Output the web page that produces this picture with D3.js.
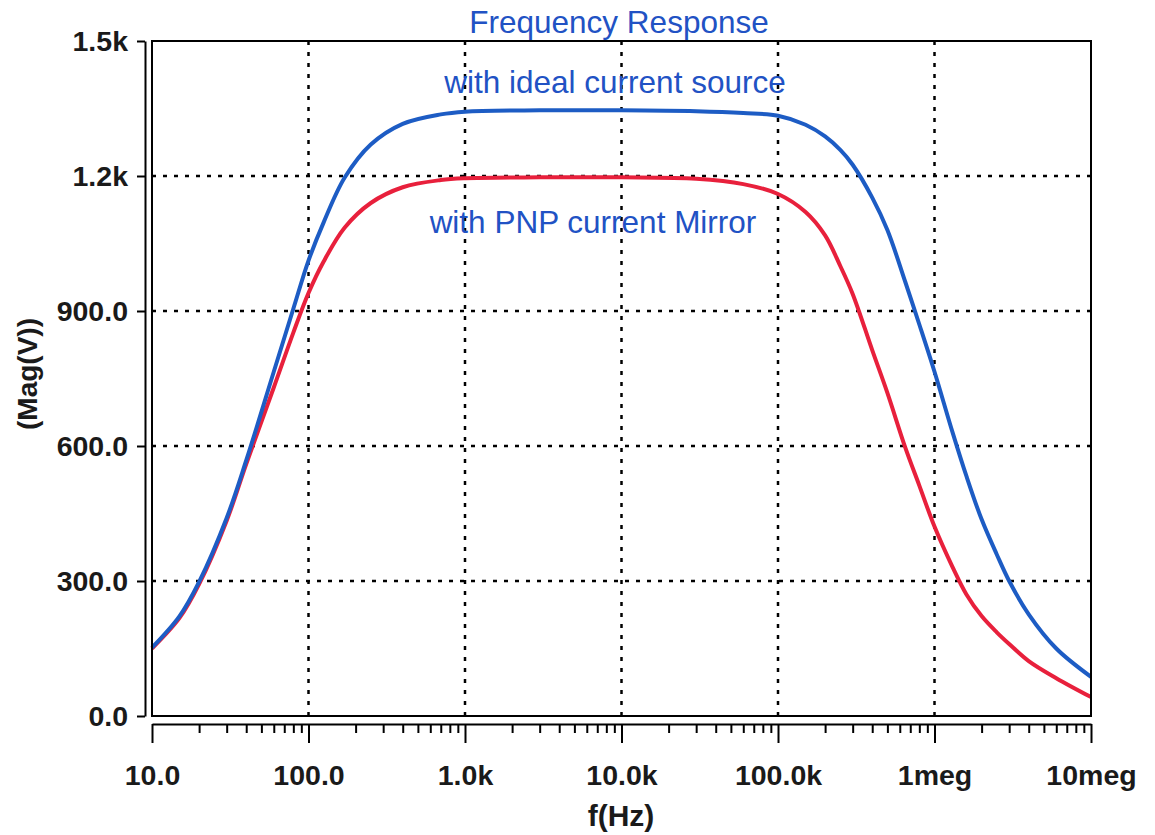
<!DOCTYPE html>
<html>
<head>
<meta charset="utf-8">
<script src="https://cdn.jsdelivr.net/npm/d3@7"></script>
<style>
  body { margin: 0; background: #fff; }
  text { font-family: "Liberation Sans", Arial, Helvetica, sans-serif; }
</style>
</head>
<body>
<div id="chart"></div>
<script>
var width = 1155;
var height = 835;

// values (Hz, V)
var freqs = [10, 15, 20, 30, 40, 60, 80, 100, 125, 170, 250, 400, 700,
  1e3, 3e3, 1e4, 3e4, 6e4, 1e5, 1.5e5, 2e5, 2.5e5, 3e5, 4e5, 5e5, 6.5e5, 8e5,
  1e6, 1.3e6, 1.6e6, 2e6, 2.5e6, 3e6, 4e6, 6e6, 1e7];
var idealSource = [152, 222, 298, 440, 568, 765, 905, 1012, 1097, 1196, 1270, 1316, 1337,
  1343, 1346, 1346, 1344, 1340, 1334, 1314, 1288, 1258, 1225, 1152, 1080, 965, 870,
  765, 632, 533, 437, 359, 300, 226, 150, 87];
var pnpMirror = [150, 218, 293, 434, 560, 730, 852, 940, 1010, 1085, 1140, 1175, 1191,
  1195, 1197, 1197, 1194, 1182, 1160, 1120, 1068, 1000, 938, 813, 718, 597, 512,
  421, 332, 270, 222, 186, 160, 122, 84, 42];

var xTicks = [10, 100, 1e3, 1e4, 1e5, 1e6, 1e7];
var xTickLabels = ["10.0", "100.0", "1.0k", "10.0k", "100.0k", "1meg", "10meg"];
var yTicks = [0, 300, 600, 900, 1200, 1500];
var yTickLabels = ["0.0", "300.0", "600.0", "900.0", "1.2k", "1.5k"];

var plotLeft = 152, plotRight = 1091, plotTop = 41, plotBottom = 716;

var svg = d3.select("#chart")
    .append("svg")
    .attr("width", width)
    .attr("height", height);

var x = d3.scaleLog().domain([10, 1e7]).range([plotLeft, plotRight]);
var y = d3.scaleLinear().domain([0, 1500]).range([plotBottom, plotTop]);

// grid
var grid = svg.append("g")
    .attr("stroke", "#000")
    .attr("stroke-width", 2.5)
    .attr("stroke-dasharray", "4,7");
grid.selectAll(".vg").data(xTicks.slice(1, -1))
    .enter().append("line")
    .attr("x1", d => x(d)).attr("x2", d => x(d))
    .attr("y1", plotTop).attr("y2", plotBottom);
grid.selectAll(".hg").data(yTicks.slice(1, -1))
    .enter().append("line")
    .attr("x1", plotLeft).attr("x2", plotRight)
    .attr("y1", d => y(d)).attr("y2", d => y(d));

// curves
var line = d3.line()
    .x((d, i) => x(freqs[i]))
    .y(d => y(d))
    .curve(d3.curveCatmullRom.alpha(0.5));

svg.append("path")
    .datum(pnpMirror)
    .attr("d", line)
    .attr("fill", "none")
    .attr("stroke", "#e8203c")
    .attr("stroke-width", 4);

svg.append("path")
    .datum(idealSource)
    .attr("d", line)
    .attr("fill", "none")
    .attr("stroke", "#1d5cc4")
    .attr("stroke-width", 4);

// plot frame
svg.append("rect")
    .attr("x", plotLeft).attr("y", plotTop)
    .attr("width", plotRight - plotLeft).attr("height", plotBottom - plotTop)
    .attr("fill", "none")
    .attr("stroke", "#000")
    .attr("stroke-width", 2);

// x axis (separate, below frame)
var minor = [];
xTicks.slice(0, -1).forEach(function(d) {
  for (var k = 2; k < 10; k++) minor.push(d * k);
});

var xAxisG = svg.append("g")
    .attr("transform", "translate(0,724)")
    .call(d3.axisBottom(x)
      .tickValues(xTicks)
      .tickFormat((d, i) => xTickLabels[i])
      .tickSize(19)
      .tickSizeOuter(0)
      .tickPadding(22));
xAxisG.select(".domain").attr("stroke-width", 2);
xAxisG.selectAll(".tick line").attr("stroke-width", 2);
xAxisG.selectAll("text")
    .style("font-size", "28.5px")
    .style("font-weight", "bold")
    .attr("fill", "#1a1a1a");

svg.append("g")
    .attr("transform", "translate(0,724)")
    .call(d3.axisBottom(x).tickValues(minor).tickFormat("").tickSize(9).tickSizeOuter(0))
    .call(g => g.select(".domain").remove())
    .selectAll(".tick line").attr("stroke-width", 2);

// y axis (separate, left of frame)
var yAxisG = svg.append("g")
    .attr("transform", "translate(145,0)")
    .call(d3.axisLeft(y)
      .tickValues(yTicks)
      .tickFormat((d, i) => yTickLabels[i])
      .tickSize(8)
      .tickSizeOuter(0)
      .tickPadding(9));
yAxisG.select(".domain").attr("stroke-width", 2);
yAxisG.selectAll(".tick line").attr("stroke-width", 2);
yAxisG.selectAll("text")
    .style("font-size", "28.5px")
    .style("font-weight", "bold")
    .attr("fill", "#1a1a1a");

// axis titles
svg.append("text")
    .attr("x", 621).attr("y", 826)
    .attr("text-anchor", "middle")
    .style("font-size", "30px")
    .style("font-weight", "bold")
    .attr("fill", "#1a1a1a")
    .text("f(Hz)");

svg.append("text")
    .attr("transform", "translate(37,374) rotate(-90)")
    .attr("text-anchor", "middle")
    .style("font-size", "28px")
    .style("font-weight", "bold")
    .attr("fill", "#1a1a1a")
    .text("(Mag(V))");

// titles and labels
var blueText = "#2152c4";
svg.append("text")
    .attr("x", 619).attr("y", 33)
    .attr("text-anchor", "middle")
    .style("font-size", "31.5px")
    .attr("fill", blueText)
    .text("Frequency Response");

svg.append("text")
    .attr("x", 615).attr("y", 93)
    .attr("text-anchor", "middle")
    .style("font-size", "31.5px")
    .attr("fill", blueText)
    .text("with ideal current source");

svg.append("text")
    .attr("x", 593).attr("y", 233)
    .attr("text-anchor", "middle")
    .style("font-size", "31.5px")
    .attr("fill", blueText)
    .text("with PNP current Mirror");
</script>
</body>
</html>
